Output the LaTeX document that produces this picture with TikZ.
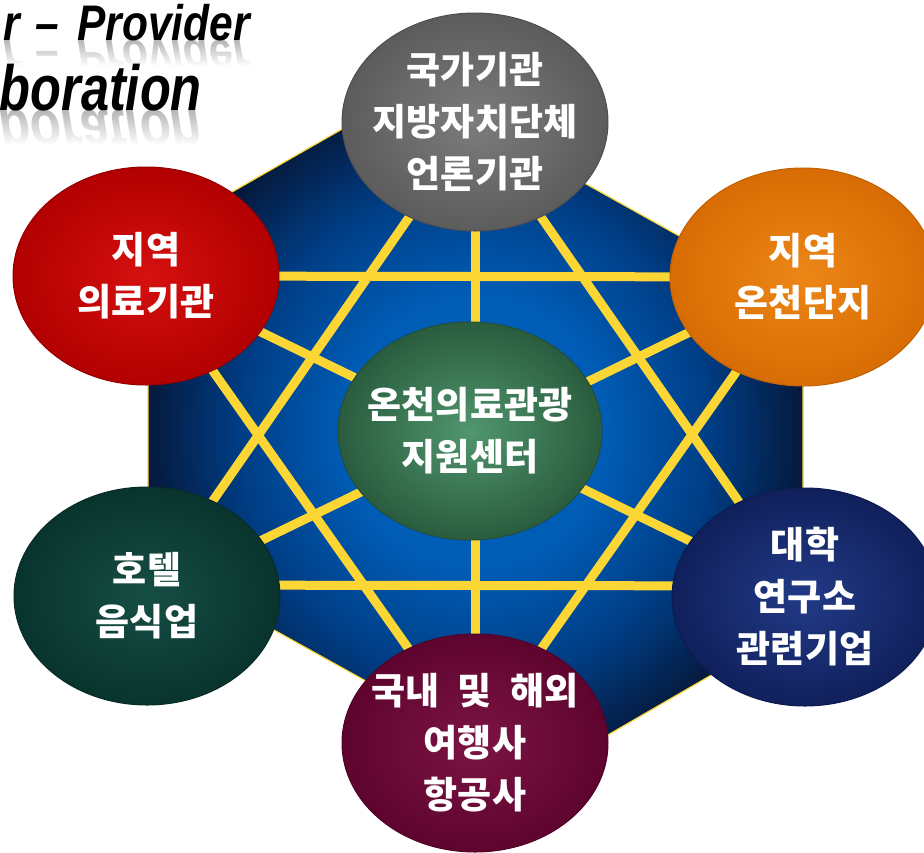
\documentclass[tikz,border=0pt]{standalone}
\usepackage{fontspec}
\usepackage{graphicx}
\usetikzlibrary{shapes.geometric,fadings}
\newfontfamily\krfont{Noto Sans CJK KR}
\newfontfamily\titlefont{Liberation Sans}
\definecolor{yel}{RGB}{252,214,52}
\definecolor{grayin}{RGB}{124,124,124}\definecolor{grayout}{RGB}{92,92,92}
\definecolor{redin}{RGB}{214,16,16}\definecolor{redout}{RGB}{178,0,0}
\definecolor{orangein}{RGB}{236,134,22}\definecolor{orangeout}{RGB}{216,108,4}
\definecolor{tealin}{RGB}{22,78,68}\definecolor{tealout}{RGB}{9,52,46}
\definecolor{navyin}{RGB}{34,58,134}\definecolor{navyout}{RGB}{16,32,92}
\definecolor{maroonin}{RGB}{124,20,68}\definecolor{maroonout}{RGB}{94,4,46}
\definecolor{greenin}{RGB}{80,150,110}\definecolor{greenout}{RGB}{42,92,62}
\pgfdeclareradialshading{hexshade}{\pgfpoint{0bp}{0bp}}{rgb(0bp)=(0,0.39,0.75); rgb(10bp)=(0,0.36,0.71); rgb(18bp)=(0,0.24,0.52); rgb(25bp)=(0.02,0.1,0.24); rgb(50bp)=(0.02,0.1,0.24)}
\tikzfading[name=fadedown, top color=transparent!100, bottom color=transparent!0]
\pgfdeclarelayer{hexlayer}
\pgfdeclarelayer{linelayer}
\pgfsetlayers{hexlayer,linelayer,main}
\tikzset{
  bubble/.style={ellipse, minimum width=266pt, minimum height=218pt,
    inner xsep=-10pt, inner ysep=0pt,
    align=center, text=white, line width=1pt,
    font=\krfont\bfseries\fontsize{37}{52}\selectfont},
  link/.style={draw=yel, line width=9pt},
  titleA/.style={anchor=base east, inner sep=0pt, font=\titlefont\bfseries\itshape\fontsize{50}{60}\selectfont},
  titleB/.style={anchor=base east, inner sep=0pt, font=\titlefont\bfseries\itshape\fontsize{64}{76}\selectfont},
  mirror/.style={transform shape, text=black!28},
  veil/.style={fill=white, path fading=fadedown},
}
\begin{document}
\begin{tikzpicture}[x=1pt,y=-1pt]
\useasboundingbox (0,0) rectangle (924,852);
\clip (0,0) rectangle (924,852);

% title with faded reflection
\begin{scope}[shift={(250,40)}, yscale=-1]
  \node[titleA, mirror] (t1r) at (0,0) {\scalebox{0.85}[1]{r\hspace{18pt}–\hspace{22pt}Provider}};
\end{scope}
\fill[veil] (0,41) rectangle (262,66);
\fill[white] (0,66) rectangle (262,84);
\begin{scope}[shift={(202,110)}, yscale=-1]
  \node[titleB, mirror] (t2r) at (0,0) {\scalebox{0.79}[1]{boration}};
\end{scope}
\fill[veil] (0,111) rectangle (215,145);
\fill[white] (0,145) rectangle (215,163);
\node[titleA] (t1) at (250,40) {\scalebox{0.85}[1]{r\hspace{18pt}–\hspace{22pt}Provider}};
\node[titleB] (t2) at (202,110) {\scalebox{0.79}[1]{boration}};

% nodes
\node[bubble, inner color=grayin, outer color=grayout, draw=grayout!85!black] (gray) at (475,122) {국가기관\\지방자치단체\\언론기관};
\node[bubble, inner color=redin, outer color=redout, draw=redout!85!black] (red) at (146,276) {지역\\의료기관};
\node[bubble, inner color=orangein, outer color=orangeout, draw=orangeout!90!black] (orange) at (803,277) {지역\\온천단지};
\node[bubble, inner color=tealin, outer color=tealout, draw=tealout!85!black] (teal) at (147,596) {호텔\\음식업};
\node[bubble, inner color=navyin, outer color=navyout, draw=navyout!85!black] (navy) at (805,597) {대학\\연구소\\관련기업};
\node[bubble, inner color=maroonin, outer color=maroonout, draw=maroonout!85!black] (maroon) at (475,743) {국내\hspace{0.5em}및\hspace{0.5em}해외\\여행사\\항공사};
\node[bubble, minimum width=264pt, inner color=greenin, outer color=greenout, draw=greenout!85!black] (green) at (470,431) {온천의료관광\\지원센터};

% hexagon
\begin{pgfonlayer}{hexlayer}
  \shadedraw[shading=hexshade, draw=yel, line width=1.2pt]
    (414,88) -- (803,305) -- (803,622) -- (537,776) -- (148,560) -- (148,240) -- cycle;
\end{pgfonlayer}

% yellow connectors
\begin{pgfonlayer}{linelayer}
  \draw[link] (gray.center) -- (maroon.center);
  \draw[link] (red.center) -- (navy.center);
  \draw[link] (orange.center) -- (teal.center);
  \draw[link] (red.center) -- (orange.center);
  \draw[link] ([yshift=11pt]teal.center) -- ([yshift=11pt]navy.center);
  \draw[link] (gray.center) -- (teal.center);
  \draw[link] (gray.center) -- (navy.center);
  \draw[link] (red.center) -- (maroon.center);
  \draw[link] (orange.center) -- (maroon.center);
\end{pgfonlayer}
\end{tikzpicture}
\end{document}
